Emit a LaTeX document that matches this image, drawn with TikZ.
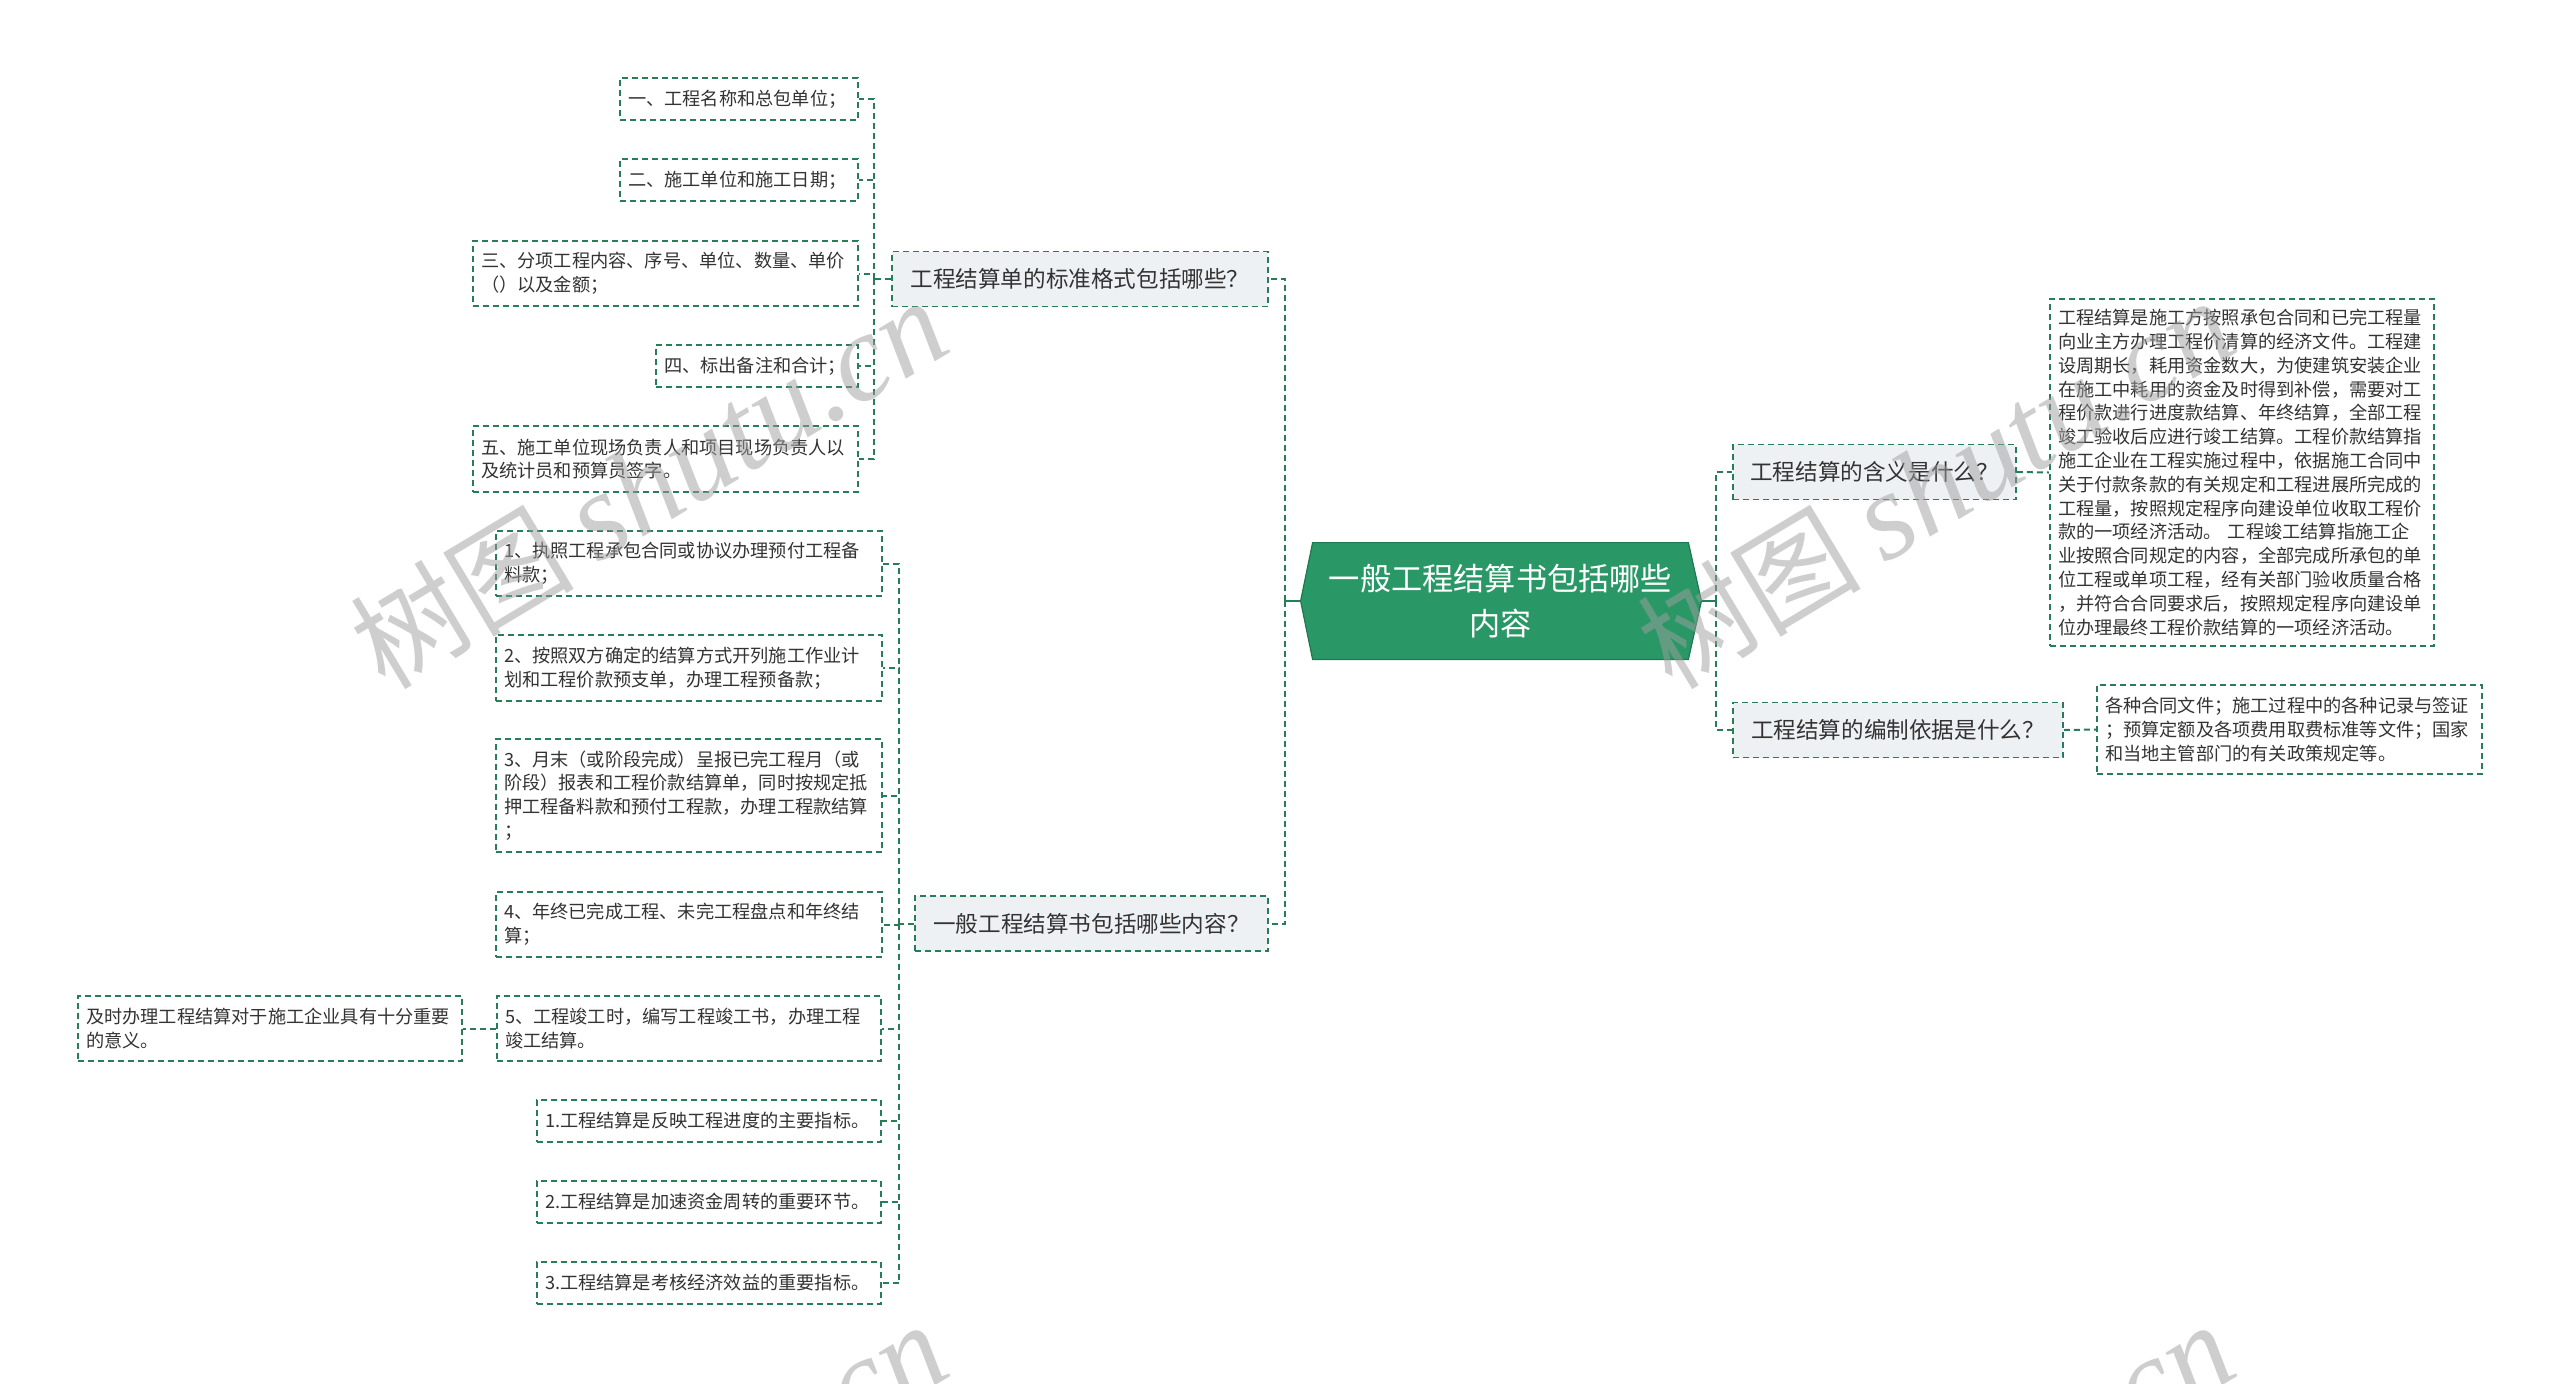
\documentclass[tikz,border=0pt]{standalone}
\usepackage{fontspec}
\setmainfont{Noto Sans CJK SC}
\newfontfamily\wmfont{Liberation Serif}
\usepackage{tikz}
\usepackage{xcolor}
\usetikzlibrary{backgrounds}
\definecolor{cLine}{RGB}{38,125,88}
\definecolor{cMain}{RGB}{42,152,102}
\definecolor{cMainDark}{RGB}{30,120,80}
\definecolor{cHead}{RGB}{238,241,244}
\definecolor{cText}{RGB}{51,51,51}
\tikzset{
	rootbox/.style={minimum width=187.5pt, minimum height=58pt, inner sep=0pt, align=center, text=white, font=\fontsize{15.6pt}{22.5pt}\selectfont},
	headbox/.style={draw=cLine, fill=cHead, line width=0.8pt, dash pattern=on 3pt off 2pt, minimum height=27.5pt, inner sep=0pt, text=cText, font=\fontsize{11.3pt}{14pt}\selectfont},
	leaf/.style={draw=cLine, fill=white, line width=0.8pt, dash pattern=on 3pt off 2pt, inner xsep=4pt, inner ysep=0pt, minimum height=21pt, align=left, text=cText, font=\fontsize{9.1pt}{11.9pt}\selectfont},
	link/.style={draw=cLine, line width=1pt, dash pattern=on 3pt off 2pt},
	stub/.style={draw=cLine, line width=1pt},
	wmark/.style={text=black!38, opacity=0.5, rotate=31, inner sep=0pt},
}

\begin{document}
\begin{tikzpicture}[x=0.5pt, y=-0.5pt]
	\useasboundingbox (0,0) rectangle (2560,1383);
	% central topic
	\node[rootbox] (root) at (1500.5,601) {一般工程结算书包括哪些\\内容};
	\begin{scope}[on background layer]
		\filldraw[fill=cMain, draw=cMainDark, line width=0.6pt] (root.north west) -- (root.north east) -- ([xshift=6.5pt]root.east) -- (root.south east) -- (root.south west) -- ([xshift=-6pt]root.west) -- cycle;
	\end{scope}
	% topics
	\node[headbox, minimum width=188pt] (h1) at (1080,279) {工程结算单的标准格式包括哪些？};
	\node[headbox, minimum width=176.5pt] (h2) at (1091.5,923.5) {一般工程结算书包括哪些内容？};
	\node[headbox, minimum width=141.5pt] (h3) at (1874.5,472) {工程结算的含义是什么？};
	\node[headbox, minimum width=165pt] (h4) at (1898,730) {工程结算的编制依据是什么？};
	% standard format items
	\node[leaf, text width=111pt] (a1) at (739,99) {一、工程名称和总包单位；};
	\node[leaf, text width=111pt] (a2) at (739,180) {二、施工单位和施工日期；};
	\node[leaf, text width=184.5pt, minimum height=32.5pt] (a3) at (665.5,273.5) {三、分项工程内容、序号、单位、数量、单价\\（）以及金额；};
	\node[leaf, text width=93pt] (a4) at (757,366) {四、标出备注和合计；};
	\node[leaf, text width=184.5pt, minimum height=33pt] (a5) at (665.5,459) {五、施工单位现场负责人和项目现场负责人以\\及统计员和预算员签字。};
	% contents items
	\node[leaf, text width=185pt, minimum height=32.5pt] (b1) at (689,563.5) {1、执照工程承包合同或协议办理预付工程备\\料款；};
	\node[leaf, text width=185pt, minimum height=33pt] (b2) at (689,668) {2、按照双方确定的结算方式开列施工作业计\\划和工程价款预支单，办理工程预备款；};
	\node[leaf, text width=185pt, minimum height=56.5pt] (b3) at (689,795.5) {3、月末（或阶段完成）呈报已完工程月（或\\阶段）报表和工程价款结算单，同时按规定抵\\押工程备料款和预付工程款，办理工程款结算\\；};
	\node[leaf, text width=185pt, minimum height=32.5pt] (b4) at (689,924.5) {4、年终已完成工程、未完工程盘点和年终结\\算；};
	\node[leaf, text width=184pt, minimum height=32.5pt] (b5) at (689,1028.5) {5、工程竣工时，编写工程竣工书，办理工程\\竣工结算。};
	\node[leaf, text width=184pt, minimum height=32.5pt] (c1) at (270,1028.5) {及时办理工程结算对于施工企业具有十分重要\\的意义。};
	\node[leaf, text width=164pt] (b6) at (709,1121) {1.工程结算是反映工程进度的主要指标。};
	\node[leaf, text width=164pt] (b7) at (709,1202) {2.工程结算是加速资金周转的重要环节。};
	\node[leaf, text width=164pt] (b8) at (709,1283) {3.工程结算是考核经济效益的重要指标。};
	% right side details
	\node[leaf, text width=184pt, minimum height=173.5pt] (d1) at (2242,472.5) {工程结算是施工方按照承包合同和已完工程量\\向业主方办理工程价清算的经济文件。工程建\\设周期长，耗用资金数大，为使建筑安装企业\\在施工中耗用的资金及时得到补偿，需要对工\\程价款进行进度款结算、年终结算，全部工程\\竣工验收后应进行竣工结算。工程价款结算指\\施工企业在工程实施过程中，依据施工合同中\\关于付款条款的有关规定和工程进展所完成的\\工程量，按照规定程序向建设单位收取工程价\\款的一项经济活动。 工程竣工结算指施工企\\业按照合同规定的内容，全部完成所承包的单\\位工程或单项工程，经有关部门验收质量合格\\，并符合合同要求后，按照规定程序向建设单\\位办理最终工程价款结算的一项经济活动。};
	\node[leaf, text width=184.5pt, minimum height=44.5pt] (d2) at (2289.5,729.5) {各种合同文件；施工过程中的各种记录与签证\\；预算定额及各项费用取费标准等文件；国家\\和当地主管部门的有关政策规定等。};
	% connectors
	\coordinate (tl) at (1285,601);
	\coordinate (tr) at (1716,601);
	\coordinate (k1) at (874,279);
	\coordinate (k2) at (899,923.5);
	\draw[stub] ([xshift=-6pt]root.west) -- (tl);
	\draw[stub] ([xshift=6.5pt]root.east) -- (tr);
	\foreach \n in {h1,h2} \draw[link] (tl) |- (\n.east);
	\foreach \n in {h3,h4} \draw[link] (tr) |- (\n.west);
	\draw[link] (h1.west) -- (k1);
	\foreach \n in {a1,a2,a3,a4,a5} \draw[link] (k1) |- (\n.east);
	\draw[link] (h2.west) -- (k2);
	\foreach \n in {b1,b2,b3,b4,b5,b6,b7,b8} \draw[link] (k2) |- (\n.east);
	\draw[link] (b5.west) -- (c1.east);
	\draw[link] (h3.east) -- (d1.west);
	\draw[link] (h4.east) -- (d2.west);
	% watermark
	\begin{scope}
		\clip (0,0) rectangle (2560,1383);
		\foreach \px/\py in {385/692, 1672/692, 385/1716, 1672/1716}
			\node[wmark, anchor=base west] (wm) at (\px,\py) {{\fontsize{56pt}{56pt}\selectfont 树图}\hspace{12pt}{\wmfont\itshape\fontsize{62pt}{62pt}\selectfont shutu.cn}};
	\end{scope}
\end{tikzpicture}
\end{document}
